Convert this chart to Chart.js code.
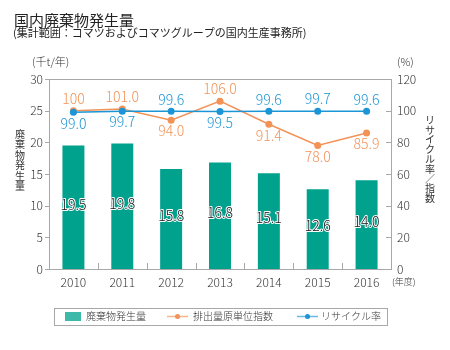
<!DOCTYPE html>
<html lang="ja">
<head>
<meta charset="utf-8">
<title>国内廃棄物発生量</title>
<script src="https://cdn.jsdelivr.net/npm/chart.js@4"></script>
<style>
  html, body { margin: 0; padding: 0; background: #fff; }
  #wrap { width: 450px; height: 350px; }
</style>
</head>
<body>
<div id="wrap"><canvas id="waste" width="450" height="350"></canvas></div>
<script>
var years = ['2010', '2011', '2012', '2013', '2014', '2015', '2016'];
var wasteAmount = [19.5, 19.8, 15.8, 16.8, 15.1, 12.6, 14.0];   // 千t/年
var unitIndex = [100, 101.0, 94.0, 106.0, 91.4, 78.0, 85.9];    // 排出量原単位指数
var recycleRate = [99.0, 99.7, 99.6, 99.5, 99.6, 99.7, 99.6];   // リサイクル率 (%)
var leftTicks = [0, 5, 10, 15, 20, 25, 30];
var rightTicks = [0, 20, 40, 60, 80, 100, 120];

var TEAL = '#00a28e';
var ORANGE = '#f39257';
var BLUE = '#1b95d6';
var AXIS = '#a8a8a8';
var FONT = "'Noto Sans CJK JP', 'Noto Sans', sans-serif";

Chart.defaults.font.family = FONT;
Chart.defaults.font.weight = 300;
Chart.defaults.color = '#333';

function fmtIndex(v, i) {
  // base year is shown without decimals
  return i === 0 ? String(v) : v.toFixed(1);
}

function vtext(ctx, str, x, y, step) {
  var chars = Array.from(str);
  for (var i = 0; i < chars.length; i++) {
    ctx.fillText(chars[i], x, y + i * step);
  }
}

var decorations = {
  id: 'decorations',
  afterDatasetsDraw: function(chart) {
    var ctx = chart.ctx;
    ctx.save();

    // bar values
    ctx.font = '300 14px ' + FONT;
    ctx.textAlign = 'center';
    ctx.textBaseline = 'middle';
    ctx.lineJoin = 'round';
    chart.getDatasetMeta(0).data.forEach(function(bar, i) {
      var y = (bar.y + bar.base) / 2 - 3;
      ctx.lineWidth = 2;
      ctx.strokeStyle = '#fff';
      ctx.strokeText(wasteAmount[i].toFixed(1), bar.x, y);
      ctx.fillStyle = '#111';
      ctx.fillText(wasteAmount[i].toFixed(1), bar.x, y);
    });

    // line values: the higher one above, the lower one below
    var idx = chart.getDatasetMeta(1).data;
    var rec = chart.getDatasetMeta(2).data;
    for (var i = 0; i < years.length; i++) {
      var idxUp = unitIndex[i] >= recycleRate[i];
      ctx.fillStyle = ORANGE;
      ctx.fillText(fmtIndex(unitIndex[i], i), idx[i].x, idx[i].y + (idxUp ? -12 : 11));
      ctx.fillStyle = BLUE;
      ctx.fillText(recycleRate[i].toFixed(1), rec[i].x, rec[i].y + (idxUp ? 11 : -12));
    }
    ctx.restore();
  },
  afterDraw: function(chart) {
    var ctx = chart.ctx;
    var area = chart.chartArea;
    var x = chart.scales.x, y = chart.scales.y, y1 = chart.scales.y1;
    ctx.save();

    // frame top line + tick marks
    ctx.strokeStyle = AXIS;
    ctx.lineWidth = 1;
    ctx.beginPath();
    ctx.moveTo(area.left, Math.round(area.top) + 0.5);
    ctx.lineTo(area.right, Math.round(area.top) + 0.5);
    leftTicks.forEach(function(v) {
      var py = Math.round(y.getPixelForValue(v)) + 0.5;
      ctx.moveTo(area.left - 4, py);
      ctx.lineTo(area.left, py);
    });
    rightTicks.forEach(function(v) {
      var py = Math.round(y1.getPixelForValue(v)) + 0.5;
      ctx.moveTo(area.right - 5, py);
      ctx.lineTo(area.right, py);
    });
    for (var i = 1; i < years.length; i++) {
      var px = Math.round((x.getPixelForValue(i - 1) + x.getPixelForValue(i)) / 2) + 0.5;
      ctx.moveTo(px, area.bottom - 6);
      ctx.lineTo(px, area.bottom);
    }
    ctx.stroke();

    // titles
    ctx.fillStyle = '#222';
    ctx.textAlign = 'left';
    ctx.textBaseline = 'middle';
    ctx.font = '15px ' + FONT;
    ctx.fillText('国内廃棄物発生量', 14, 20);
    ctx.font = '11px ' + FONT;
    ctx.fillText('(集計範囲：コマツおよびコマツグループの国内生産事務所)', 13, 33);

    // unit labels
    ctx.fillStyle = '#333';
    ctx.font = '300 11px ' + FONT;
    ctx.fillText('(千t/年)', 32, 62);
    ctx.fillText('(%)', 397, 62);
    ctx.font = '300 9px ' + FONT;
    ctx.fillText('(年度)', 392, 282);

    // vertical axis titles
    ctx.textAlign = 'center';
    ctx.font = '10px ' + FONT;
    vtext(ctx, '廃棄物発生量', 20, 134, 10.5);
    vtext(ctx, 'リサイクル率／指数', 430, 120, 9.8);

    // legend
    var ly = 316.5;
    ctx.strokeStyle = AXIS;
    ctx.strokeRect(54.5, 308.5, 333, 17);
    ctx.fillStyle = '#3cb9a8';
    ctx.fillRect(65, 312, 16, 9);
    ctx.lineWidth = 1.5;
    ctx.strokeStyle = '#f6b48b';
    ctx.beginPath(); ctx.moveTo(167, ly); ctx.lineTo(188, ly); ctx.stroke();
    ctx.fillStyle = ORANGE;
    ctx.beginPath(); ctx.arc(177.5, ly, 2.5, 0, Math.PI * 2); ctx.fill();
    ctx.strokeStyle = '#6ab8e4';
    ctx.beginPath(); ctx.moveTo(297, ly); ctx.lineTo(318, ly); ctx.stroke();
    ctx.fillStyle = BLUE;
    ctx.beginPath(); ctx.arc(307.5, ly, 2.5, 0, Math.PI * 2); ctx.fill();

    ctx.fillStyle = '#333';
    ctx.textAlign = 'left';
    ctx.font = '300 10px ' + FONT;
    ctx.fillText(chart.data.datasets[0].label, 86, ly);
    ctx.fillText(chart.data.datasets[1].label, 193, ly);
    ctx.fillText(chart.data.datasets[2].label, 321, ly);

    ctx.restore();
  }
};

var ctx = document.getElementById('waste').getContext('2d');
var wasteChart = new Chart(ctx, {
  type: 'bar',
  data: {
    labels: years,
    datasets: [{
      label: '廃棄物発生量',
      data: wasteAmount,
      backgroundColor: TEAL,
      yAxisID: 'y',
      barPercentage: 0.9,
      categoryPercentage: 0.5,
      order: 2
    }, {
      type: 'line',
      label: '排出量原単位指数',
      data: unitIndex,
      borderColor: ORANGE,
      backgroundColor: ORANGE,
      borderWidth: 1.5,
      pointRadius: 3.5,
      pointBorderWidth: 0,
      tension: 0,
      yAxisID: 'y1',
      order: 1
    }, {
      type: 'line',
      label: 'リサイクル率',
      data: recycleRate,
      borderColor: BLUE,
      backgroundColor: BLUE,
      borderWidth: 1.5,
      pointRadius: 3.5,
      pointBorderWidth: 0,
      tension: 0,
      yAxisID: 'y1',
      order: 0
    }]
  },
  options: {
    responsive: false,
    animation: false,
    layout: { padding: { top: 79, left: 0, right: 0, bottom: 0 } },
    plugins: {
      legend: { display: false },
      tooltip: { enabled: false }
    },
    scales: {
      x: {
        grid: { display: false, drawTicks: false },
        border: { display: true, color: AXIS },
        ticks: { color: '#333', font: { size: 12 }, padding: 6 },
        afterFit: function(s) { s.height = 81; }
      },
      y: {
        position: 'left',
        min: 0,
        max: 30,
        grid: { display: false, drawTicks: false },
        border: { display: true, color: AXIS },
        ticks: { stepSize: 5, color: '#333', font: { size: 12 }, padding: 6 },
        afterFit: function(s) { s.width = 49; }
      },
      y1: {
        position: 'right',
        min: 0,
        max: 120,
        grid: { display: false, drawTicks: false },
        border: { display: true, color: AXIS },
        ticks: { stepSize: 20, color: '#333', font: { size: 12 }, padding: 6 },
        afterFit: function(s) { s.width = 59; }
      }
    }
  },
  plugins: [decorations]
});
</script>
</body>
</html>
